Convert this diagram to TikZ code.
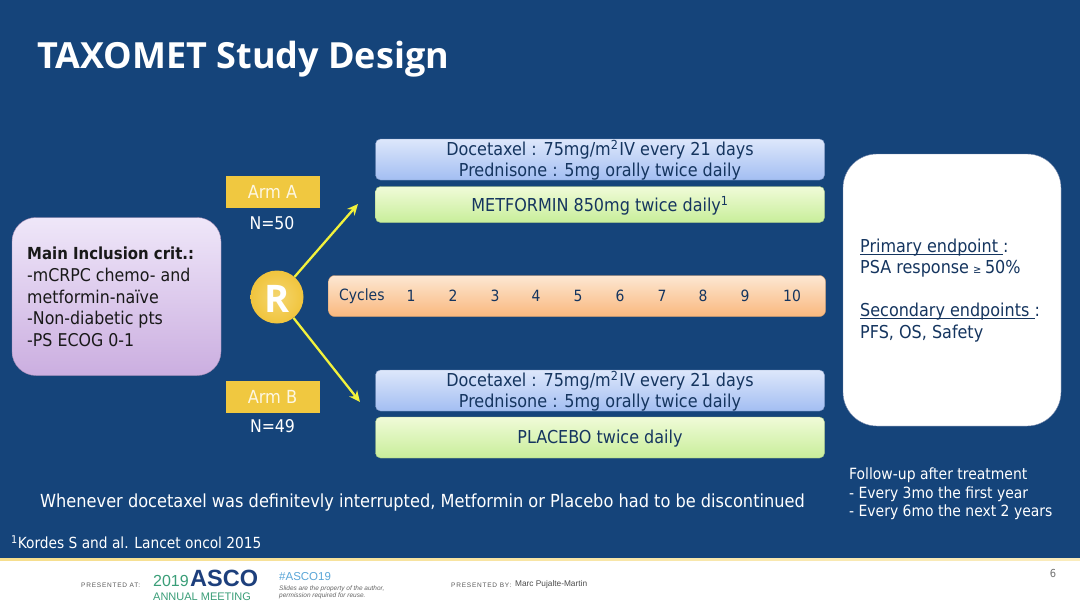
\documentclass[tikz,border=0pt]{standalone}
\usepackage{fontspec}
\newfontfamily\bodyf{DejaVu Sans Condensed}
\newfontfamily\titlef{Open Sans}
\newfontfamily\footf{Liberation Sans}
\newfontfamily\footsp[LetterSpace=12]{Liberation Sans}
\newcommand{\lineunder}[1]{\setbox0\hbox{#1}\rlap{\rule[-2.4pt]{\wd0}{1pt}}\box0}
\newcommand{\dnone}[1]{\raisebox{-1pt}[\height][\depth]{#1}}
\usetikzlibrary{arrows.meta}
\definecolor{bgblue}{HTML}{15447A}
\definecolor{inktxt}{HTML}{15355F}
\definecolor{armgold}{HTML}{F0C840}
\definecolor{arrowy}{HTML}{F2F23C}
\definecolor{bluetop}{HTML}{DDE7FB}
\definecolor{bluebot}{HTML}{A3BEF2}
\definecolor{greentop}{HTML}{F0FBD8}
\definecolor{greenbot}{HTML}{C8EE9A}
\definecolor{purptop}{HTML}{EFE7F9}
\definecolor{purpbot}{HTML}{CBAEE0}
\definecolor{orgtop}{HTML}{FDE7D2}
\definecolor{orgbot}{HTML}{F9B87E}
\definecolor{ascoblue}{HTML}{1D3F7C}
\definecolor{ascogreen}{HTML}{3A9E78}
\definecolor{hashblue}{HTML}{5AA6D8}
\tikzset{
  x=1pt,y=-1pt,
  base/.style={font=\bodyf\fontsize{17.5}{21}\selectfont,inner sep=0pt,align=center},
  panel/.style={rounded corners=5pt,inner sep=0pt,minimum height=#1},
  bluebox/.style={panel=41pt,minimum width=449pt,top color=bluetop,bottom color=bluebot,draw=bluebot!80!black,text=inktxt,font=\bodyf\fontsize{17.8}{21}\selectfont,align=center},
  greenbox/.style={panel=36pt,minimum width=449pt,top color=greentop,bottom color=greenbot,draw=greenbot!85!black,text=inktxt,font=\bodyf\fontsize{17.8}{21}\selectfont,align=center},
  armbox/.style={fill=armgold,minimum width=94pt,minimum height=32pt,inner sep=0pt,text=white!85!armgold,font=\bodyf\fontsize{18}{21}\selectfont},
  whitetxt/.style={base,text=white},
  ylw/.style={draw=arrowy,line width=2.3pt,-{Stealth[length=11pt,width=10pt]}},
  cyc/.style={font=\bodyf\fontsize{15.5}{18}\selectfont,text=inktxt,inner sep=0pt},
  lefttxt/.style={anchor=west,inner sep=0pt,align=left},
}
\begin{document}
\begin{tikzpicture}
\path[use as bounding box] (0,0) rectangle (1080,608);
\fill[bgblue] (0,0) rectangle (1080,558);
\fill[white] (0,560) rectangle (1080,608);
\shade[left color=armgold!60!white,right color=armgold!35!white] (0,558) rectangle (1080,560.5);
\node[lefttxt,text=white,font=\titlef\bfseries\fontsize{36}{40}\selectfont] (title) at (37,59) {TAXOMET Study Design};
% inclusion box
\node[rounded corners=24pt,minimum width=209pt,minimum height=158pt,inner sep=0pt,top color=purptop,bottom color=purpbot,draw=purpbot!80!black] (incl) at (116.5,296.5) {};
\node[lefttxt,text=black!90,font=\bodyf\fontsize{17.6}{21.7}\selectfont] (incltxt) at (27,297) {{\bfseries\fontsize{16.6}{21.7}\selectfont Main Inclusion crit.:}\\-mCRPC chemo- and\\metformin-naïve\\-Non-diabetic pts\\-PS ECOG 0-1};
% arms
\node[armbox] (armA) at (272.5,192) {Arm A};
\node[whitetxt] (nA) at (272,223) {N=50};
\node[armbox] (armB) at (272.5,397) {Arm B};
\node[whitetxt] (nB) at (272.5,426) {N=49};
% R
\node[circle,minimum size=53pt,inner sep=0pt,inner color=armgold!75!white,outer color=armgold!95!orange,text=white,font=\titlef\bfseries\fontsize{38}{40}\selectfont] (R) at (277,297) {\raisebox{-2pt}[\height][\depth]{R}};
\coordinate (headA) at (358,204);
\coordinate (headB) at (360,402);
\draw[ylw] (R) -- (headA);
\draw[ylw] (R) -- (headB);
% treatments
\node[bluebox] (docA) at (600,159.5) {\dnone{Docetaxel : 75mg/m\textsuperscript{2}\kern1pt IV every 21 days}\\\dnone{Prednisone : 5mg orally twice daily}};
\node[greenbox] (metf) at (600,204.5) {\dnone{METFORMIN 850mg twice daily\textsuperscript{1}}};
\node[bluebox] (docB) at (600,390.5) {\dnone{Docetaxel : 75mg/m\textsuperscript{2}\kern1pt IV every 21 days}\\\dnone{Prednisone : 5mg orally twice daily}};
\node[greenbox,minimum height=41pt] (plac) at (600,437.5) {\dnone{PLACEBO twice daily}};
% cycles
\node[rounded corners=6pt,minimum width=497pt,minimum height=41pt,inner sep=0pt,top color=orgtop,bottom color=orgbot,draw=orgbot!85!black] (cycles) at (577,296) {};
\node[cyc,anchor=west] (cyclab) at (339,296) {Cycles};
\node[cyc] (c1) at (411,296) {1};
\node[cyc] (c2) at (453,296) {2};
\node[cyc] (c3) at (495,296) {3};
\node[cyc] (c4) at (536,296) {4};
\node[cyc] (c5) at (578,296) {5};
\node[cyc] (c6) at (620,296) {6};
\node[cyc] (c7) at (662,296) {7};
\node[cyc] (c8) at (703,296) {8};
\node[cyc] (c9) at (745,296) {9};
\node[cyc] (c10) at (792,296) {10};
% endpoints
\node[rounded corners=34pt,minimum width=218pt,minimum height=272pt,inner sep=0pt,fill=white,draw=bluebot!70!black] (endp) at (952,290) {};
\node[lefttxt,text=inktxt,font=\bodyf\fontsize{17.8}{21.5}\selectfont] (endtxt) at (860,290.5) {\lineunder{Primary endpoint }:\\PSA response\kern-1pt{} {\fontsize{11}{11}\selectfont ≥}\kern-1.5pt{} 50\%\\[21.5pt]\lineunder{Secondary endpoints }:\\PFS, OS, Safety};
% notes
\node[lefttxt,text=white,font=\bodyf\fontsize{18}{20}\selectfont] (when) at (40,503) {Whenever docetaxel was definitevly interrupted, Metformin or Placebo had to be discontinued};
\node[lefttxt,text=white,font=\bodyf\fontsize{15.5}{18.7}\selectfont] (fu) at (849,494) {Follow-up after treatment\\- Every 3mo the first year\\- Every 6mo the next 2 years};
\node[lefttxt,text=white,font=\bodyf\fontsize{15.3}{18}\selectfont] (ref) at (11,542) {\textsuperscript{1}Kordes S and al. Lancet oncol 2015};
% footer
\node[lefttxt,text=black!65,font=\footsp\fontsize{6.5}{7}\selectfont] (pa) at (81,585) {PRESENTED AT:};
\node[lefttxt,text=ascogreen,font=\footf\fontsize{16}{16}\selectfont] (y19) at (153,581) {2019};
\node[lefttxt,text=ascoblue,font=\footf\bfseries\fontsize{23.5}{24}\selectfont] (asco) at (190,578.5) {ASCO};
\node[lefttxt,text=ascogreen,font=\footf\fontsize{11}{11}\selectfont] (am) at (153,596.5) {ANNUAL MEETING};
\node[lefttxt,text=hashblue,font=\footf\fontsize{11.5}{12}\selectfont] (hash) at (279,577) {\#ASCO19};
\node[lefttxt,text=black!60,font=\footf\itshape\fontsize{6.5}{6.6}\selectfont] (sl) at (279,592.5) {Slides are the property of the author,\\permission required for reuse.};
\node[lefttxt,text=black!65,font=\footsp\fontsize{6.5}{7}\selectfont] (pb) at (451,585) {PRESENTED BY:};
\node[lefttxt,text=black!70,font=\footf\fontsize{8.3}{9}\selectfont] (mp) at (515,584.5) {Marc Pujalte-Martin};
\node[inner sep=0pt,text=black!55,font=\bodyf\fontsize{11}{12}\selectfont] (pg) at (1053,573) {6};
\end{tikzpicture}
\end{document}
